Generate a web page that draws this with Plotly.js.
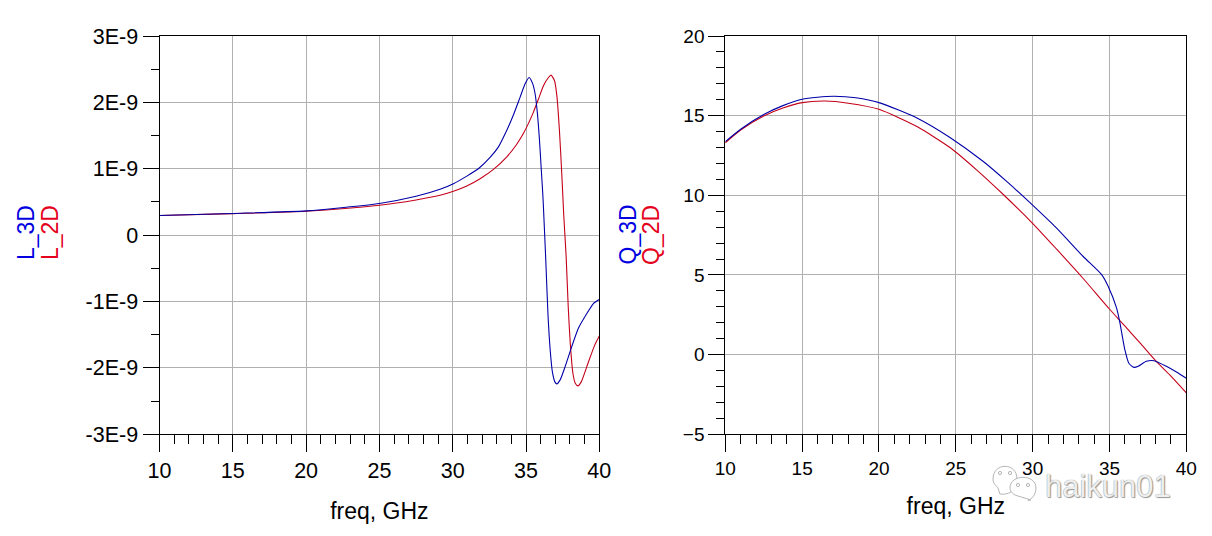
<!DOCTYPE html>
<html><head><meta charset="utf-8">
<script src="https://cdn.plot.ly/plotly-3.0.1.min.js"></script>
<style>html,body{margin:0;padding:0;background:#fff}#c{width:1212px;height:536px}</style>
</head><body><div id="c"></div>
<script>
// L in units of 1E-9
const freqL3D=[10,15,20,25,27.5,29.14,30.05,30.96,31.75,32.55,33.12,33.69,34.14,34.6,34.94,35.21,35.44,35.62,35.78,35.92,36.03,36.15,36.19,36.35,36.5,36.65,36.8,36.97,37.1,37.33,37.67,38.12,38.58,39.15,39.6,40];
const L3D=[0.295,0.327,0.366,0.477,0.585,0.69,0.773,0.889,1.0,1.17,1.33,1.58,1.81,2.08,2.28,2.375,2.29,2.13,1.83,1.43,1.03,0.6,0.42,-0.38,-1.2,-1.73,-2.06,-2.21,-2.24,-2.18,-1.98,-1.68,-1.40,-1.18,-1.03,-0.97];
const freqL2D=[10,15,20,25,27.5,29.14,30.05,30.96,31.87,32.78,33.69,34.37,34.82,35.16,35.5,35.85,36.19,36.53,36.71,36.94,37.1,37.28,37.45,37.58,37.74,37.88,38.02,38.2,38.36,38.54,38.77,39.23,39.68,40];
const L2D=[0.295,0.325,0.36,0.45,0.53,0.6,0.66,0.74,0.85,0.99,1.18,1.37,1.53,1.68,1.85,2.05,2.25,2.375,2.41,2.33,2.11,1.58,0.88,0.28,-0.33,-1.08,-1.63,-2.08,-2.23,-2.27,-2.21,-1.93,-1.66,-1.52];
const freqQ3D=[10,11,12.5,13.75,15,16,17.1,18.5,20,22.5,24.62,26.79,28.31,29.98,31.56,33.29,34.49,34.92,35.46,35.68,36,36.27,36.6,36.87,37.4,37.9,38.7,39.36,40];
const Q3D=[13.37,14.15,15.07,15.63,16.03,16.16,16.22,16.12,15.82,14.84,13.63,12.12,10.87,9.4,7.94,6.16,5.02,4.28,2.93,2.0,0.31,-0.56,-0.8,-0.73,-0.42,-0.38,-0.73,-1.09,-1.48];
const freqQ2D=[10,11,12.5,13.75,15,16.5,18,20,22.5,24.62,26.35,28.09,29.98,31.56,33.29,34.98,36,37,38,39,40];
const Q2D=[13.3,14.1,14.98,15.48,15.82,15.92,15.78,15.4,14.3,13.0,11.6,10.05,8.26,6.62,4.78,2.88,1.8,0.72,-0.38,-1.35,-2.4];
const xTicks=[10,15,20,25,30,35,40];
const lTicks=[-3,-2,-1,0,1,2,3];
const lLabels=['-3E-9','-2E-9','-1E-9','0','1E-9','2E-9','3E-9'];
const qTicks=[-5,0,5,10,15,20];
const xName='freq, GHz';
const names=['L_3D','L_2D','Q_3D','Q_2D'];
const blue='#0000a8', red='#c40018', labBlue='#0000e0', labRed='#e4001c';
const W=1212,H=536, FONT='"Liberation Sans", Arial, sans-serif';
const line=c=>({color:c,width:1.1,shape:'spline',smoothing:0.6});
const traces=[
 {x:freqL2D,y:L2D,name:names[1],mode:'lines',line:line(red),xaxis:'x',yaxis:'y'},
 {x:freqL3D,y:L3D,name:names[0],mode:'lines',line:line(blue),xaxis:'x',yaxis:'y'},
 {x:freqQ2D,y:Q2D,name:names[3],mode:'lines',line:line(red),xaxis:'x2',yaxis:'y2'},
 {x:freqQ3D,y:Q3D,name:names[2],mode:'lines',line:line(blue),xaxis:'x2',yaxis:'y2'}
];
const xax=(dom,anchor,fs,so)=>({domain:dom,anchor,range:[10,40],tickmode:'array',tickvals:xTicks,ticks:'outside',ticklen:17,tickwidth:1,tickcolor:'#000',
  minor:{dtick:1,tick0:10,ticks:'outside',ticklen:9,tickwidth:1,tickcolor:'#000',showgrid:false},
  showgrid:true,gridcolor:'#b0b0b0',gridwidth:1,zeroline:false,showline:true,mirror:true,linecolor:'#000',linewidth:1,
  tickfont:{family:FONT,size:fs,color:'#000'},title:{text:xName,font:{family:FONT,size:23,color:'#000'},standoff:so}});
const yax=(dom,anchor,fs,range)=>({domain:dom,anchor,range,ticks:'outside',ticklen:16,tickwidth:1,tickcolor:'#000',
  showgrid:true,gridcolor:'#b0b0b0',gridwidth:1,zeroline:false,showline:true,mirror:true,linecolor:'#000',linewidth:1,
  tickfont:{family:FONT,size:fs,color:'#000'}});
const yDom=[(H-434.3)/H,(H-36)/H];
const layout={width:W,height:H,margin:{l:0,r:0,t:0,b:0},paper_bgcolor:'#fff',plot_bgcolor:'#fff',showlegend:false,
 xaxis:xax([159.5/W,599.3/W],'y',21.5,20),
 yaxis:Object.assign(yax(yDom,'x',21.5,[-3,3]),{tickmode:'array',tickvals:lTicks,ticktext:lLabels,minor:{dtick:0.5,tick0:0,ticks:'outside',ticklen:8,tickwidth:1,tickcolor:'#000',showgrid:false}}),
 xaxis2:xax([725.3/W,1186.3/W],'y2',19,19),
 yaxis2:Object.assign(yax(yDom,'x2',19,[-5,20]),{tickmode:'array',tickvals:qTicks,minor:{dtick:1,tick0:0,ticks:'outside',ticklen:8,tickwidth:1,tickcolor:'#000',showgrid:false}}),
 annotations:[
  [names[0],26,233,labBlue],[names[1],50,233,labRed],[names[2],627.5,235,labBlue],[names[3],651,235,labRed]
 ].map(a=>({text:a[0],x:a[1]/W,y:1-a[2]/H,xref:'paper',yref:'paper',showarrow:false,textangle:-90,xanchor:'center',yanchor:'middle',font:{family:FONT,size:23,color:a[3]}}))
 .concat([{text:'haikun01',x:1107.5/W,y:1-486/H,xref:'paper',yref:'paper',showarrow:false,xanchor:'center',yanchor:'middle',
   font:{family:FONT,size:31,color:'#eeeeee',shadow:'0 0 1px #777, 1px 1px 1px #999'}}]),
 shapes:(()=>{
  const p=(x,y)=>(x/W).toFixed(5)+','+(1-y/H).toFixed(5);
  const bub=(cx,cy,rx,ry,tx,ty)=>({type:'path',xref:'paper',yref:'paper',line:{color:'#b5b5b5',width:1},fillcolor:'rgba(255,255,255,0.9)',
    path:'M'+p(cx-rx,cy)+' C'+p(cx-rx,cy-ry*1.3)+' '+p(cx+rx,cy-ry*1.3)+' '+p(cx+rx,cy)+' C'+p(cx+rx,cy+ry*1.2)+' '+p(cx-rx*0.1,cy+ry*1.2)+' '+p(tx,ty)+' L'+p(cx-rx*0.6,cy+ry*0.65)+' C'+p(cx-rx*0.9,cy+ry*0.45)+' '+p(cx-rx,cy+ry*0.2)+' '+p(cx-rx,cy)+' Z'});
  const eye=(x,y)=>({type:'circle',xref:'paper',yref:'paper',x0:(x-1.6)/W,x1:(x+1.6)/W,y0:1-(y+1.6)/H,y1:1-(y-1.6)/H,line:{color:'#b5b5b5',width:1},fillcolor:'#fff'});
  return [bub(1005,479,12,13,1000,494),bub(1023,488,13,11,1031,500),eye(1000,473),eye(1010,473),eye(1018,485),eye(1028,485)];
 })()
};
Plotly.newPlot('c',traces,layout,{staticPlot:true,displayModeBar:false});
</script></body></html>
